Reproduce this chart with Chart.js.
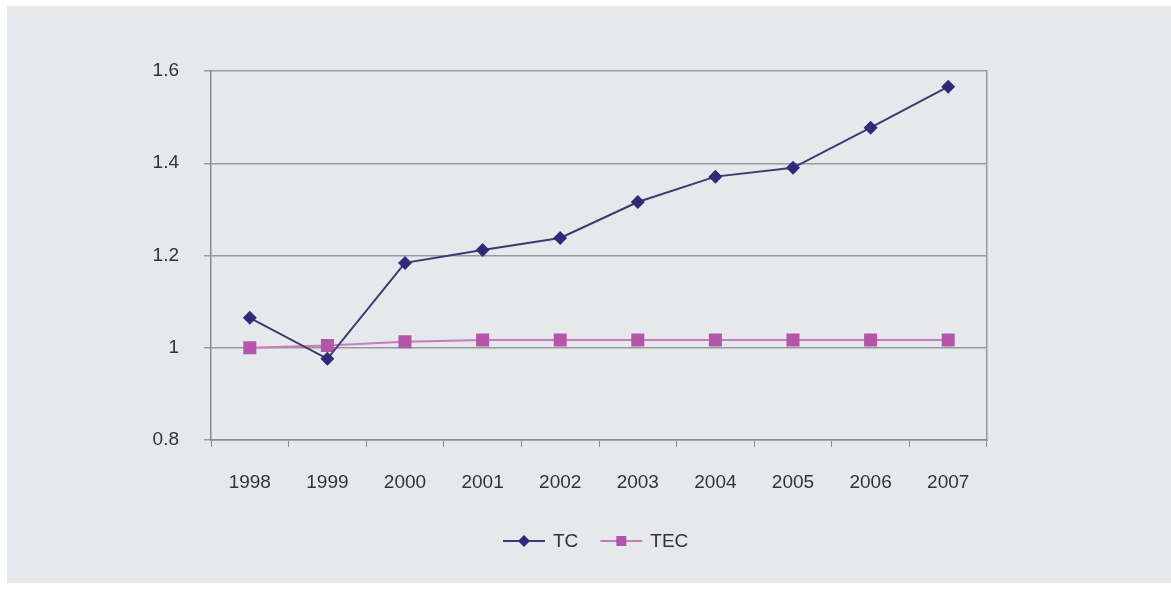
<!DOCTYPE html>
<html>
<head>
<meta charset="utf-8">
<script src="https://cdn.jsdelivr.net/npm/chart.js@4/dist/chart.umd.min.js"></script>
<style>
  html, body { margin: 0; padding: 0; background: #ffffff; }
  #wrap { position: absolute; left: 0; top: 0; width: 1171px; height: 591px; }
  #panel { position: absolute; left: 7px; top: 6px; width: 1164px; height: 577px; background: #e6e9ec; }
</style>
</head>
<body>
<div id="wrap">
  <div id="panel"></div>
  <canvas id="myChart" width="1171" height="591" style="position:absolute;left:0;top:0;"></canvas>
</div>
<script>
var years = ['1998', '1999', '2000', '2001', '2002', '2003', '2004', '2005', '2006', '2007'];
var tcValues = [1.065, 0.976, 1.184, 1.212, 1.238, 1.316, 1.371, 1.39, 1.477, 1.566];
var tecValues = [1.0, 1.005, 1.013, 1.017, 1.017, 1.017, 1.017, 1.017, 1.017, 1.017];
var yTicks = [0.8, 1, 1.2, 1.4, 1.6];

var font = 'Liberation Sans, Arial, sans-serif';

// legend drawn by hand: short line with the marker on it, then the label
var lineLegend = {
    id: 'lineLegend',
    afterDraw: function (chart) {
        var ctx = chart.ctx;
        var y = 541;
        var x = 503;
        ctx.save();
        ctx.font = '19px ' + font;
        ctx.textBaseline = 'middle';
        chart.data.datasets.forEach(function (ds) {
            ctx.strokeStyle = ds.borderColor;
            ctx.lineWidth = 2;
            ctx.beginPath();
            ctx.moveTo(x, y);
            ctx.lineTo(x + 42, y);
            ctx.stroke();
            ctx.fillStyle = ds.pointBackgroundColor;
            ctx.beginPath();
            if (ds.pointStyle === 'rectRot') {
                ctx.moveTo(x + 21, y - 6);
                ctx.lineTo(x + 27, y);
                ctx.lineTo(x + 21, y + 6);
                ctx.lineTo(x + 15, y);
                ctx.closePath();
            } else {
                ctx.rect(x + 16, y - 5, 10, 10);
            }
            ctx.fill();
            ctx.fillStyle = '#333333';
            ctx.fillText(ds.label, x + 50, y + 1);
            x += 50 + ctx.measureText(ds.label).width + 22;
        });
        ctx.restore();
    }
};

function createChart() {
    var ctx = document.getElementById('myChart').getContext('2d');
    new Chart(ctx, {
        type: 'line',
        data: {
            labels: years,
            datasets: [
                {
                    label: 'TC',
                    data: tcValues,
                    borderColor: '#3b3a72',
                    borderWidth: 2,
                    pointStyle: 'rectRot',
                    pointRadius: 7,
                    pointBackgroundColor: '#2f2b7a',
                    pointBorderWidth: 0,
                    tension: 0
                },
                {
                    label: 'TEC',
                    data: tecValues,
                    borderColor: '#c77dbd',
                    borderWidth: 2,
                    pointStyle: 'rect',
                    pointRadius: 9.2,
                    pointBackgroundColor: '#b454aa',
                    pointBorderWidth: 0,
                    tension: 0
                }
            ]
        },
        options: {
            responsive: false,
            animation: false,
            layout: { padding: { left: 0, right: 184, top: 71, bottom: 91 } },
            plugins: {
                legend: { display: false },
                tooltip: { enabled: false }
            },
            scales: {
                x: {
                    offset: true,
                    afterFit: function (s) { s.height = 60; },
                    grid: {
                        drawOnChartArea: false,
                        drawTicks: true,
                        tickLength: 7,
                        color: '#8a8a8a',
                        offset: true
                    },
                    border: { color: '#8a8a8a', width: 1.5 },
                    ticks: {
                        padding: 24,
                        color: '#333333',
                        font: { family: font, size: 19 },
                        maxRotation: 0
                    }
                },
                y: {
                    min: 0.8,
                    max: 1.6,
                    afterFit: function (s) { s.width = 211; },
                    afterBuildTicks: function (s) {
                        s.ticks = yTicks.map(function (v) { return { value: v }; });
                    },
                    grid: {
                        color: '#9a9a9a',
                        lineWidth: 1.5,
                        tickLength: 7
                    },
                    border: { color: '#8a8a8a', width: 1.5 },
                    ticks: {
                        padding: 25,
                        color: '#333333',
                        font: { family: font, size: 19 },
                        callback: function (v) { return String(v); }
                    }
                },
                y2: {
                    position: 'right',
                    min: 0.8,
                    max: 1.6,
                    afterFit: function (s) { s.width = 0; },
                    grid: { drawOnChartArea: false, drawTicks: false },
                    border: { color: '#9a9a9a', width: 1.5 },
                    ticks: { display: false }
                }
            }
        },
        plugins: [lineLegend]
    });
}
createChart();
</script>
</body>
</html>
